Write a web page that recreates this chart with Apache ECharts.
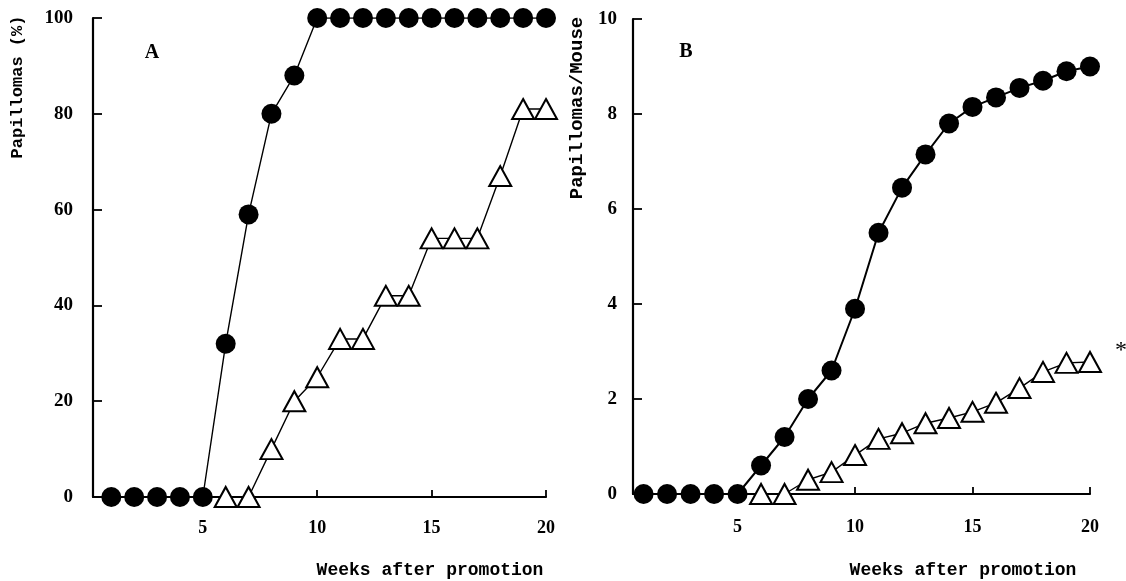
<!DOCTYPE html>
<html>
<head>
<meta charset="utf-8">
<script src="https://cdn.jsdelivr.net/npm/echarts@6/dist/echarts.min.js"></script>
<style>html,body{margin:0;padding:0;background:#fff;}#c{width:1126px;height:581px;}</style>
</head>
<body>
<div id="c"></div>
<script>
// ---- data ----
const weeks = [1,2,3,4,5,6,7,8,9,10,11,12,13,14,15,16,17,18,19,20];
const triWeeks = [6,7,8,9,10,11,12,13,14,15,16,17,18,19,20];
const aCircles = [0,0,0,0,0,32,59,80,88,100,100,100,100,100,100,100,100,100,100,100];
const aTriangles = [0,0,10,20,25,33,33,42,42,54,54,54,67,81,81];
const bCircles = [0,0,0,0,0,0.6,1.2,2.0,2.6,3.9,5.5,6.45,7.15,7.8,8.15,8.35,8.55,8.7,8.9,9.0];
const bTriangles = [0,0,0.3,0.46,0.82,1.16,1.28,1.49,1.6,1.73,1.92,2.23,2.57,2.76,2.78];
const xTicks = [5,10,15,20];
const aYTicks = [0,20,40,60,80,100];
const bYTicks = [0,2,4,6,8,10];

const chart = echarts.init(document.getElementById('c'));
const serif = 'Liberation Serif';
const mono = 'Liberation Mono';

function xAxis(idx, min, margin){
  return {
    type:'value', gridIndex: idx, min: min, max: 20,
    axisLine:{show:true, lineStyle:{color:'#000', width:2.2}},
    axisTick:{show:true, inside:true, length:7, customValues:xTicks, lineStyle:{color:'#000', width:1.8}},
    axisLabel:{customValues:xTicks, margin:margin, color:'#000', fontFamily:serif, fontWeight:'bold', fontSize:18},
    splitLine:{show:false}
  };
}
function yAxis(idx, max, interval, ticks, margin){
  return {
    type:'value', gridIndex: idx, min:0, max:max, interval:interval,
    axisLine:{show:true, lineStyle:{color:'#000', width:2.2}},
    axisTick:{show:true, inside:true, length:9, lineStyle:{color:'#000', width:1.8}},
    axisLabel:{margin:margin, color:'#000', fontFamily:serif, fontWeight:'bold', fontSize:19,
      formatter: v => ticks.indexOf(v) >= 0 ? String(v) : ''},
    splitLine:{show:false}
  };
}
function circleSeries(xi, vals, lw){
  return {type:'line', xAxisIndex:xi, yAxisIndex:xi, data: weeks.map((w,i)=>[w, vals[i]]),
    symbol:'circle', symbolSize:20, z:4,
    lineStyle:{color:'#000', width:lw}, itemStyle:{color:'#000', borderColor:'#000', borderWidth:0},
    animation:false};
}
function triSeries(xi, vals, star){
  const data = triWeeks.map((w,i)=>{
    const d = {value:[w, vals[i]]};
    if (star && i === triWeeks.length-1) {
      d.label = {show:true, formatter:'*', position:'right', offset:[8,-11], color:'#000', fontSize:24, fontFamily:serif};
    }
    return d;
  });
  return {type:'line', xAxisIndex:xi, yAxisIndex:xi, data: data,
    symbol:'triangle', symbolSize:[22,20], z:3,
    lineStyle:{color:'#000', width:1.4}, itemStyle:{color:'#fff', borderColor:'#000', borderWidth:2},
    animation:false};
}

const option = {
  backgroundColor:'#fff',
  animation:false,
  grid:[
    {left:93, right:580, top:18, bottom:84},
    {left:633, right:36, top:19, bottom:87}
  ],
  xAxis:[xAxis(0, 0.2, 22), xAxis(1, 0.55, 24)],
  yAxis:[yAxis(0, 100, 20, aYTicks, 20), yAxis(1, 10, 2, bYTicks, 16)],
  series:[
    circleSeries(0, aCircles, 1.4),
    triSeries(0, aTriangles, false),
    circleSeries(1, bCircles, 2),
    triSeries(1, bTriangles, true)
  ],
  graphic:[
    {type:'text', x:152, y:53, style:{text:'A', font:'bold 20px "Liberation Serif"', fill:'#000', align:'center', verticalAlign:'middle'}},
    {type:'text', x:686, y:52, style:{text:'B', font:'bold 20px "Liberation Serif"', fill:'#000', align:'center', verticalAlign:'middle'}},
    {type:'text', x:430, y:570, style:{text:'Weeks after promotion', font:'bold 18px "Liberation Mono"', fill:'#000', align:'center', verticalAlign:'middle'}},
    {type:'text', x:963, y:570, style:{text:'Weeks after promotion', font:'bold 18px "Liberation Mono"', fill:'#000', align:'center', verticalAlign:'middle'}},
    {type:'text', x:18, y:87, rotation:Math.PI/2, style:{text:'Papillomas (%)', font:'bold 17px "Liberation Mono"', fill:'#000', align:'center', verticalAlign:'middle'}},
    {type:'text', x:577, y:108, rotation:Math.PI/2, style:{text:'Papillomas/Mouse', font:'bold 19px "Liberation Mono"', fill:'#000', align:'center', verticalAlign:'middle'}}
  ]
};
chart.setOption(option);
</script>
</body>
</html>
